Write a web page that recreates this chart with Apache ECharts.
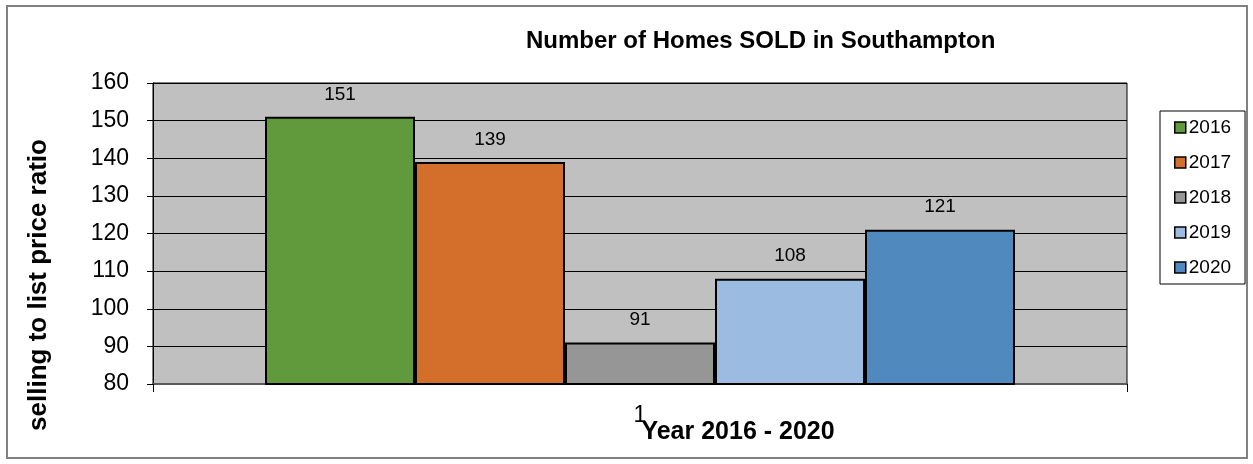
<!DOCTYPE html>
<html>
<head>
<meta charset="utf-8">
<script src="https://cdn.jsdelivr.net/npm/echarts@6/dist/echarts.min.js"></script>
<style>
  html, body { margin: 0; padding: 0; background: #fff; }
  #chart { width: 1253px; height: 464px; }
</style>
</head>
<body>
<div id="chart"></div>
<script>
// values
const categories = ['1'];
const years = ['2016', '2017', '2018', '2019', '2020'];
const soldCounts = [151, 139, 91, 108, 121];
const yMin = 80, yMax = 160, yStep = 10;

const barColors = ['#619a3d', '#d46e2b', '#969696', '#9bbbe1', '#4f89bd'];
const font = 'Liberation Sans, Arial, sans-serif';

const chart = echarts.init(document.getElementById('chart'));

const series = years.map((y, i) => ({
    name: y,
    type: 'bar',
    data: [soldCounts[i]],
    barWidth: 150,
    barGap: '0%',
    itemStyle: { color: barColors[i], borderColor: '#000', borderWidth: 2 },
    label: {
        show: true,
        position: 'top',
        distance: 13,
        color: '#000',
        fontSize: 19,
        fontFamily: font
    }
}));

chart.setOption({
    backgroundColor: '#fff',
    animation: false,
    title: {
        text: 'Number of Homes SOLD in Southampton',
        left: 526,
        top: 29,
        padding: 0,
        textStyle: { color: '#000', fontSize: 24, fontWeight: 'bold', fontFamily: font }
    },
    legend: {
        orient: 'vertical',
        left: 1160,
        top: 111,
        padding: [7, 14, 7, 14],
        itemGap: 16,
        itemWidth: 11,
        itemHeight: 11,
        icon: 'rect',
        borderColor: '#000',
        borderWidth: 1,
        backgroundColor: '#fff',
        itemStyle: { borderColor: '#000', borderWidth: 1.5 },
        textStyle: { color: '#000', fontSize: 19, fontFamily: font, padding: [0, 0, 0, -2] },
        data: years
    },
    grid: {
        left: 153, top: 83, right: 126, bottom: 80,
        show: true,
        backgroundColor: '#c0c0c0',
        borderColor: '#000',
        borderWidth: 1
    },
    xAxis: {
        type: 'category',
        data: categories,
        axisLine: { lineStyle: { color: '#5a5a5a', width: 2 } },
        axisTick: { show: true, length: 8, lineStyle: { color: '#000' } },
        axisLabel: { color: '#000', fontSize: 23, fontFamily: font, margin: 20 }
    },
    yAxis: {
        type: 'value',
        min: yMin,
        max: yMax,
        interval: yStep,
        axisLine: { show: true, lineStyle: { color: '#000', width: 1 } },
        axisTick: { show: true, length: 6, lineStyle: { color: '#000' } },
        axisLabel: { color: '#000', fontSize: 23, fontFamily: font, margin: 24 },
        splitLine: { lineStyle: { color: '#000', width: 1 } }
    },
    graphic: [
        {
            type: 'rect',
            shape: { x: 7, y: 6, width: 1240, height: 452 },
            style: { fill: 'none', stroke: '#808080', lineWidth: 2 },
            silent: true
        },
        {
            type: 'text',
            x: 39, y: 285,
            rotation: Math.PI / 2,
            style: {
                text: 'selling to list price ratio',
                fill: '#000',
                font: 'bold 26px ' + font,
                textAlign: 'center',
                textVerticalAlign: 'middle'
            }
        },
        {
            type: 'text',
            x: 738, y: 432,
            style: {
                text: 'Year 2016 - 2020',
                fill: '#000',
                font: 'bold 25px ' + font,
                textAlign: 'center',
                textVerticalAlign: 'middle'
            }
        }
    ],
    series: series
});
</script>
</body>
</html>
